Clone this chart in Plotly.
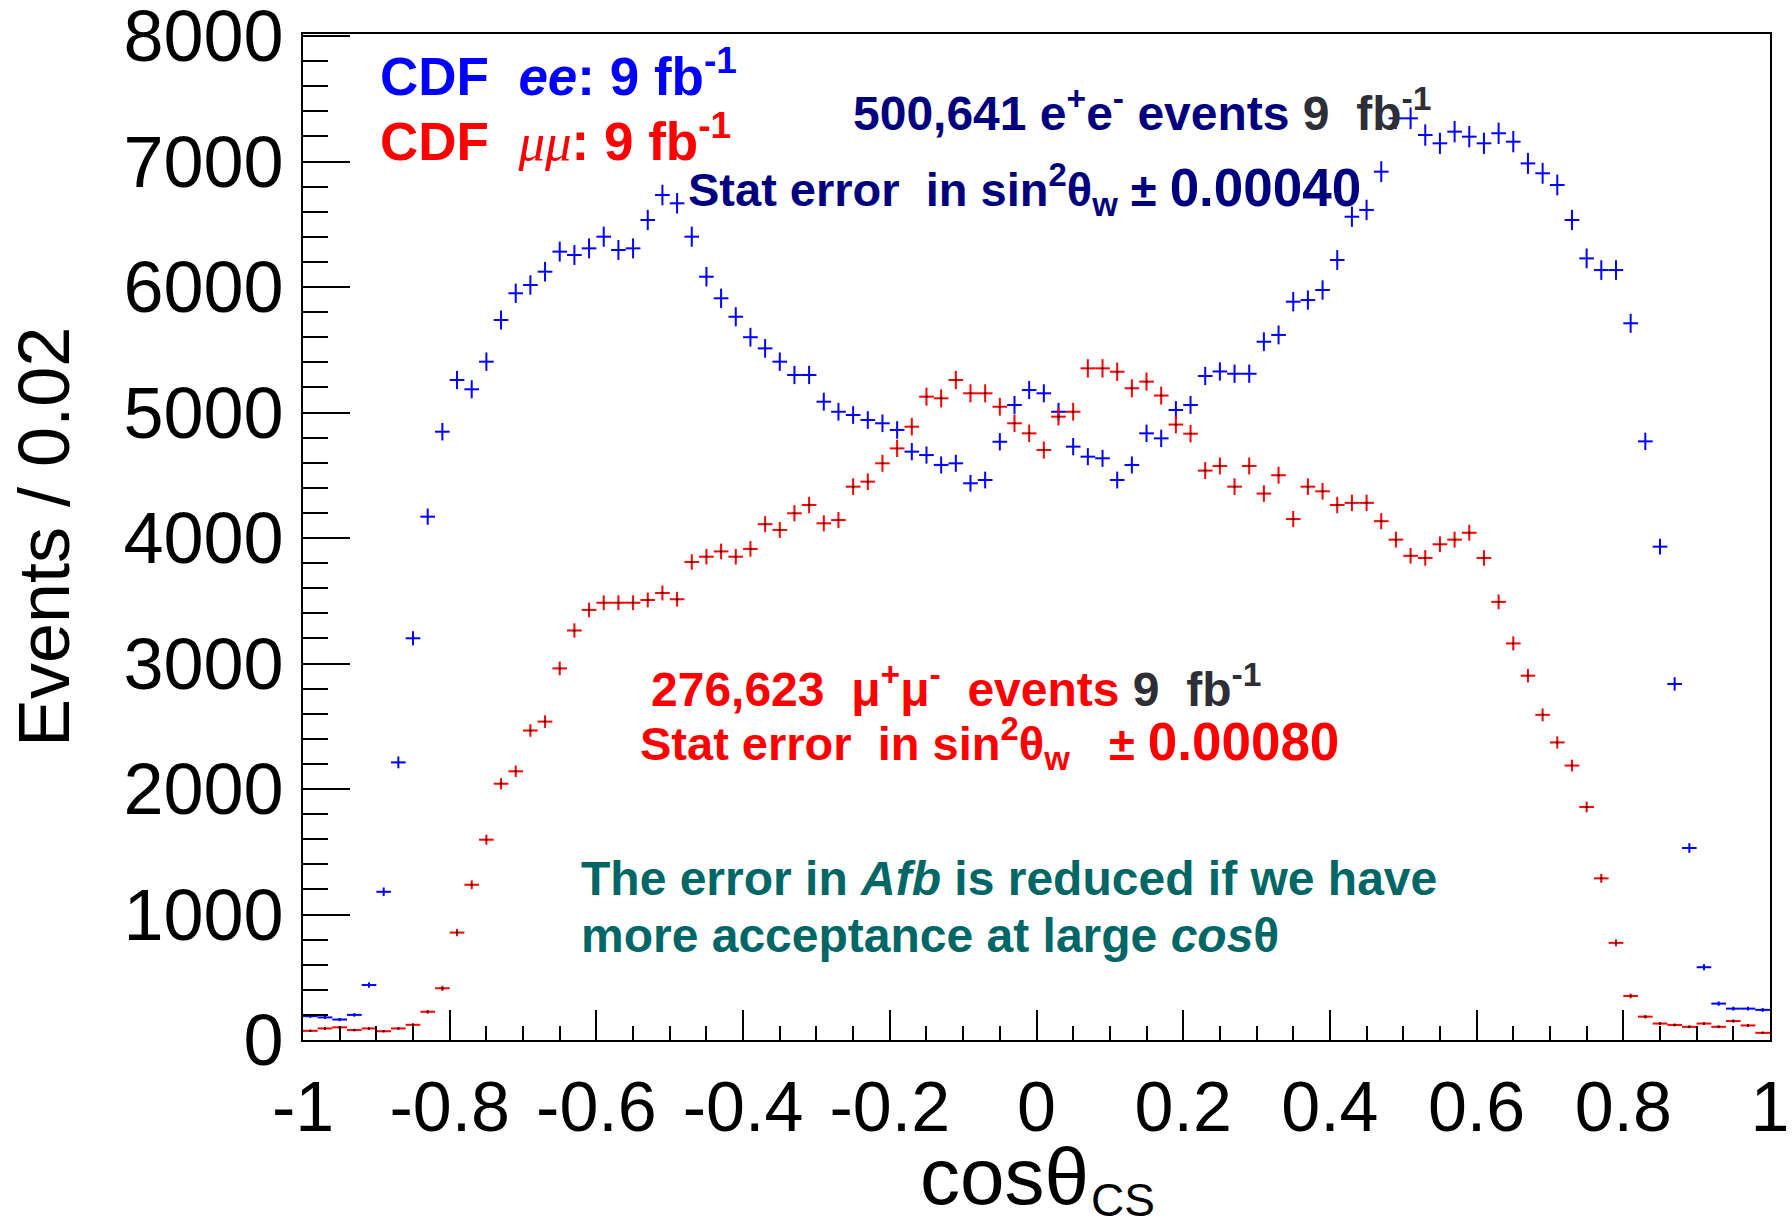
import numpy as np
import plotly.graph_objects as go

# ---------------- data ----------------
bin_edges = np.linspace(-1.0, 1.0, 101)
bin_centers = 0.5 * (bin_edges[:-1] + bin_edges[1:])
bin_half_width = 0.01

ee_counts = [190, 180, 163, 200, 438, 1181, 2212, 3201, 4170, 4847,
             5259, 5185, 5405, 5737, 5950, 6016, 6122, 6282, 6255, 6308,
             6401, 6295, 6308, 6534, 6733, 6667, 6401, 6082, 5910, 5763,
             5600, 5511, 5405, 5299, 5299, 5086, 5006, 4980, 4940, 4914,
             4861, 4688, 4661, 4582, 4595, 4436, 4462, 4767, 5060, 5179,
             5153, 5006, 4728, 4648, 4635, 4462, 4582, 4834, 4794, 5020,
             5060, 5291, 5327, 5309, 5309, 5564, 5618, 5883, 5896, 5976,
             6215, 6560, 6614, 6919, 7344, 7344, 7211, 7145, 7238, 7198,
             7145, 7225, 7158, 6985, 6906, 6813, 6534, 6228, 6135, 6135,
             5711, 4770, 3931, 2837, 1530, 580, 290, 250, 250, 240]

mumu_counts = [73, 92, 101, 79, 92, 70, 92, 121, 225, 412,
               856, 1237, 1596, 2042, 2141, 2466, 2537, 2961, 3263, 3427,
               3484, 3484, 3484, 3506, 3562, 3512, 3809, 3851, 3893, 3851,
               3913, 4110, 4064, 4197, 4263, 4117, 4143, 4409, 4449, 4595,
               4714, 4887, 5126, 5113, 5259, 5153, 5153, 5046, 4914, 4834,
               4701, 4967, 5006, 5352, 5352, 5325, 5193, 5246, 5135, 4904,
               4831, 4537, 4574, 4409, 4574, 4354, 4500, 4151, 4409, 4372,
               4263, 4280, 4280, 4134, 3987, 3858, 3841, 3950, 3987, 4042,
               3841, 3491, 3160, 2903, 2591, 2371, 2187, 1857, 1288, 774,
               351, 186, 131, 120, 105, 131, 105, 151, 116, 57]

x_tick_vals = [-1, -0.8, -0.6, -0.4, -0.2, 0, 0.2, 0.4, 0.6, 0.8, 1]
x_tick_text = ["-1", "-0.8", "-0.6", "-0.4", "-0.2", "0", "0.2", "0.4", "0.6", "0.8", "1"]
y_tick_vals = [0, 1000, 2000, 3000, 4000, 5000, 6000, 7000, 8000]
y_tick_text = ["0", "1000", "2000", "3000", "4000", "5000", "6000", "7000", "8000"]

# ---------------- geometry helpers (pixels -> paper) ----------------
W, H = 1792, 1230
L, R, T, B = 303, 1770, 34, 1040


def px(x):
    return (x - L) / (R - L)


def py(y):
    return (B - y) / (B - T)


BLUE = "#0000ff"
RED = "#ff0000"
NAVY = "#00007f"
TEAL = "#006666"
GREY = "#2e2e36"
FONT = "Liberation Sans, Arial, sans-serif"

fig = go.Figure()


def add_hist(counts, color, marker_color, marker_size):
    fig.add_trace(go.Scatter(
        x=bin_centers, y=counts, mode="markers",
        marker=dict(size=marker_size, color=marker_color),
        error_x=dict(type="constant", value=bin_half_width, width=0,
                     thickness=2, color=color),
        error_y=dict(type="data", array=np.sqrt(np.array(counts, float)),
                     width=0, thickness=2, color=color),
        showlegend=False, hoverinfo="x+y"))


add_hist(ee_counts, BLUE, BLUE, 2)
add_hist(mumu_counts, RED, "#400000", 2.5)

ann = []


def text(x, y, s, color, size, anchor="left"):
    ann.append(dict(xref="paper", yref="paper", x=px(x), y=py(y), text=s,
                    showarrow=False, xanchor=anchor, yanchor="middle",
                    font=dict(family=FONT, size=size, color=color)))


NB = "\u00a0"
text(378, 72, f"<b>CDF{NB}{NB}<i>ee</i>: 9 fb<sup>-1</sup></b>", BLUE, 53)
text(378, 137, f"<b>CDF{NB}{NB}</b><span style='font-family:Liberation Serif'><i>μμ</i></span><b>: 9 fb<sup>-1</sup></b>", RED, 53)
text(851, 110, f"<b>500,641 e<sup>+</sup>e<sup>-</sup> events </b><span style='color:{GREY}'><b>9{NB}{NB}fb<sup>-1</sup></b></span>", NAVY, 48)
text(686, 190, f"<b>Stat error{NB}{NB}in sin<sup>2</sup>θ<sub>w</sub> ± <span style='font-size:53px'>0.00040</span></b>", NAVY, 47)
text(649, 686, f"<b>276,623{NB}{NB}μ<sup>+</sup>μ<sup>-</sup>{NB} events </b><span style='color:{GREY}'><b>9{NB}{NB}fb<sup>-1</sup></b></span>", RED, 48)
text(638, 743, f"<b>Stat error{NB}{NB}in sin<sup>2</sup>θ<sub>w</sub>{NB}{NB} ± <span style='font-size:53px'>0.00080</span></b>", RED, 47)
text(579, 878, "<b>The error in <i>Afb</i> is reduced if we have</b>", TEAL, 48)
text(579, 935, "<b>more acceptance at large <i>cos</i>θ</b>", TEAL, 48)

# axis titles
ann.append(dict(xref="paper", yref="paper", x=px(44), y=py(537), text="Events / 0.02",
                textangle=-90, showarrow=False, xanchor="center", yanchor="middle",
                font=dict(family=FONT, size=72, color="black")))
ann.append(dict(xref="paper", yref="paper", x=px(1091), y=py(1176), text="cosθ",
                showarrow=False, xanchor="right", yanchor="middle",
                font=dict(family=FONT, size=80, color="black")))
ann.append(dict(xref="paper", yref="paper", x=px(1089), y=py(1200), text="CS",
                showarrow=False, xanchor="left", yanchor="middle",
                font=dict(family=FONT, size=46, color="black")))

fig.update_layout(
    width=W, height=H, autosize=False,
    margin=dict(l=L, r=W - R, t=T, b=H - B, pad=0, autoexpand=False),
    plot_bgcolor="white", paper_bgcolor="white",
    annotations=ann,
    showlegend=False,
    xaxis=dict(range=[-1, 1], showline=True, linecolor="black", linewidth=2, mirror=True,
               automargin=False,
               showgrid=False, zeroline=False, ticks="inside", ticklen=30, tickwidth=2,
               tickcolor="black", tickvals=x_tick_vals, ticktext=x_tick_text,
               tickfont=dict(family=FONT, size=70, color="black"), ticklabelstandoff=5,
               ticklabeloverflow="allow",
               minor=dict(ticks="inside", ticklen=14, tickwidth=1.5, dtick=0.05,
                          tick0=-1, tickcolor="black", showgrid=False)),
    yaxis=dict(range=[0, 8016], showline=True, linecolor="black", linewidth=2, mirror=True,
               automargin=False,
               showgrid=False, zeroline=False, ticks="inside", ticklen=47, tickwidth=2,
               tickcolor="black", tickvals=y_tick_vals, ticktext=y_tick_text,
               tickfont=dict(family=FONT, size=72, color="black"), ticklabelstandoff=3,
               ticklabeloverflow="allow",
               minor=dict(ticks="inside", ticklen=25, tickwidth=1.5, dtick=200,
                          tick0=0, tickcolor="black", showgrid=False)),
)

fig.write_html("out.html")
